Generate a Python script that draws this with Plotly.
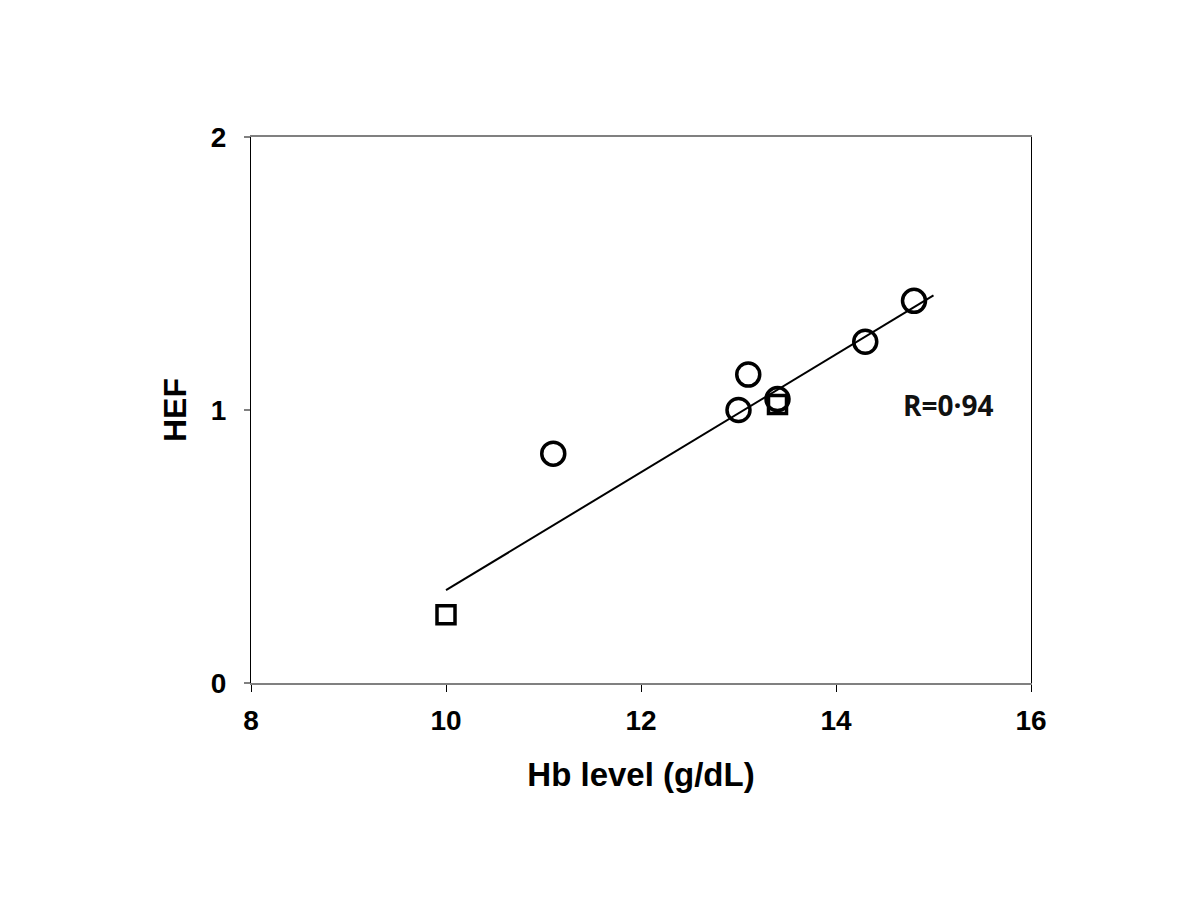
import plotly.graph_objects as go

# circles: HEF vs Hb
circle_hb = [11.1, 13.0, 13.1, 13.4, 14.3, 14.8]
circle_hef = [0.84, 1.00, 1.13, 1.04, 1.25, 1.40]

# squares
square_hb = [10.0, 13.4]
square_hef = [0.25, 1.02]

# regression line end points
fit_hb = [10.0, 15.0]
fit_hef = [0.34, 1.42]

x_ticks = [8, 10, 12, 14, 16]
y_ticks = [0, 1, 2]

fig = go.Figure()

fig.add_trace(go.Scatter(x=fit_hb, y=fit_hef, mode="lines",
                         line=dict(color="black", width=2), showlegend=False))
fig.add_trace(go.Scatter(x=square_hb, y=square_hef, mode="markers",
                         marker=dict(symbol="square-open", size=18, color="black",
                                     line=dict(width=3.5)),
                         showlegend=False))
fig.add_trace(go.Scatter(x=circle_hb, y=circle_hef, mode="markers",
                         marker=dict(symbol="circle-open", size=23, color="black",
                                     line=dict(width=3.5)),
                         showlegend=False))

fig.add_annotation(x=14.67, y=1.02, text="<b>R=0·94</b>", showarrow=False,
                   xanchor="left", font=dict(family="Open Sans", size=28, color="#111"))

# page has an 8px body margin, so the margins are shifted by that
fig.update_layout(
    width=1200, height=900,
    paper_bgcolor="white", plot_bgcolor="white",
    margin=dict(l=243, r=177, t=129, b=225),
    font=dict(family="Liberation Sans", color="black"),
    xaxis=dict(range=[8, 16], tickvals=x_ticks, showgrid=False, zeroline=False,
               showline=True, linecolor="#808080", linewidth=2, mirror=True,
               ticks="outside", ticklen=7, tickcolor="black", tickwidth=1,
               ticklabelstandoff=4,
               tickfont=dict(family="Liberation Sans", size=28, weight="bold"),
               title=dict(text="<b>Hb level (g/dL)</b>", standoff=28,
                          font=dict(family="Liberation Sans", size=33))),
    yaxis=dict(range=[0, 2], tickvals=y_ticks, showgrid=False, zeroline=False,
               showline=True, linecolor="black", linewidth=1, mirror=True,
               ticks="outside", ticklen=6, tickcolor="#808080", tickwidth=2,
               ticklabelstandoff=12,
               tickfont=dict(family="Liberation Sans", size=28, weight="bold"),
               title=dict(text="<b>HEF</b>", standoff=14,
                          font=dict(family="Liberation Sans", size=32))),
)

fig.write_html("out.html")
